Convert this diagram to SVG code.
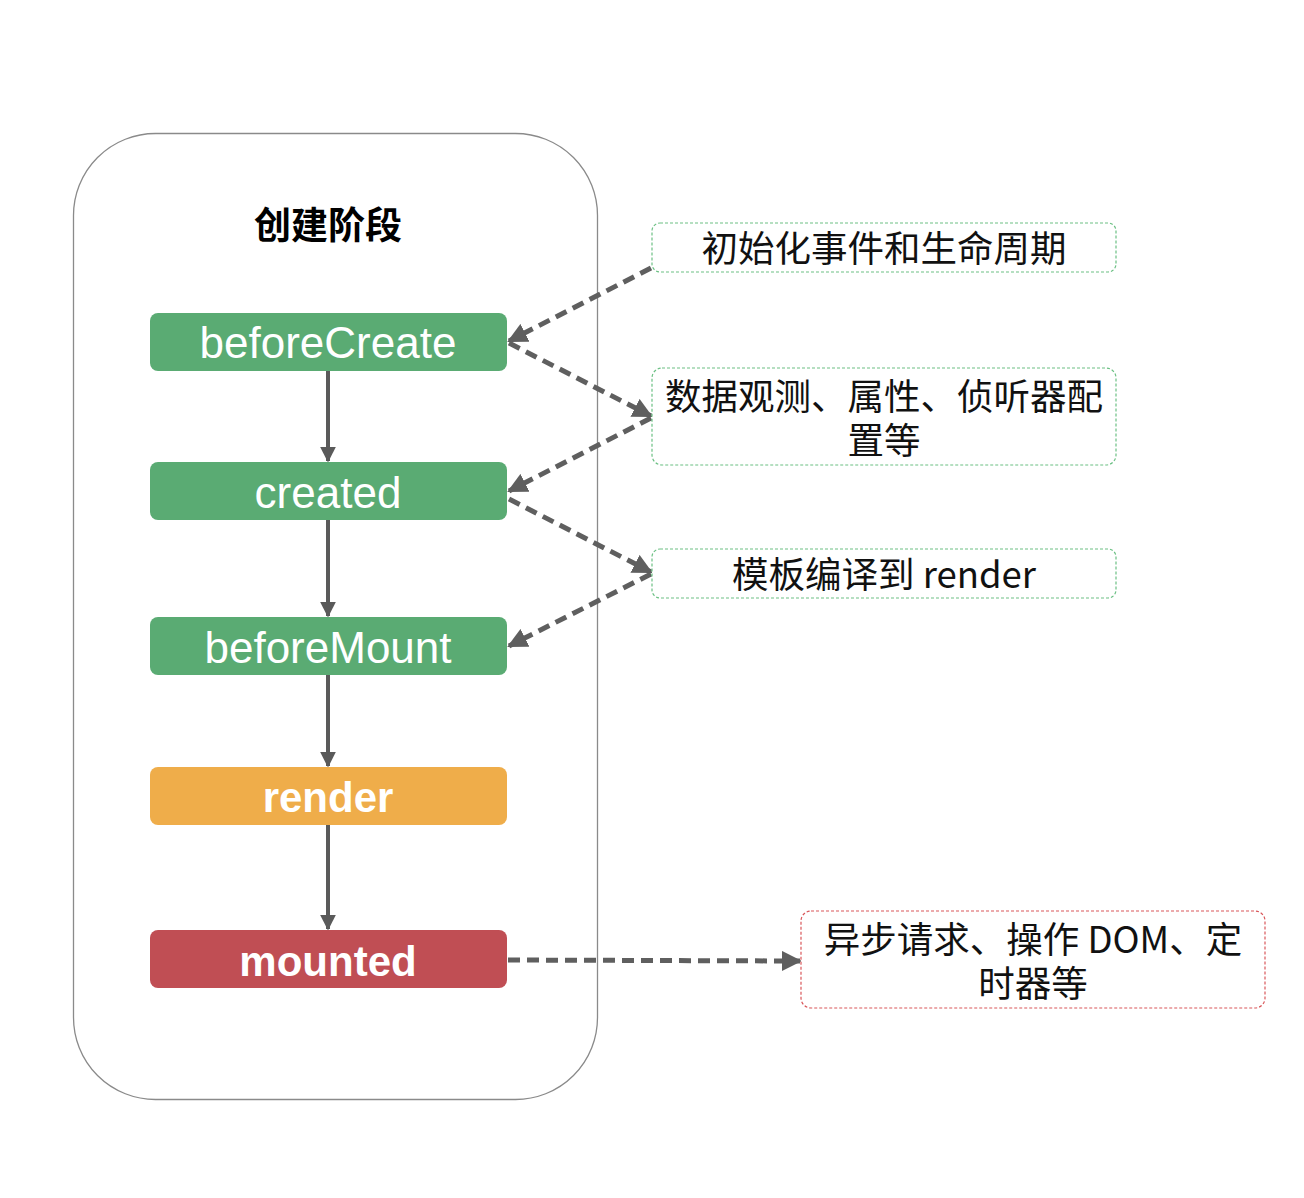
<svg xmlns="http://www.w3.org/2000/svg" width="1304" height="1198" viewBox="0 0 1304 1198">
<style>
.node text{font-family:"Liberation Sans",Arial,sans-serif;font-size:44px;fill:#fff;text-anchor:middle}
.node text.b{font-size:42px;font-weight:bold}
.note text{font-family:"Noto Sans CJK SC","Liberation Sans",sans-serif;font-size:36.5px;fill:#111;text-anchor:middle}
.note rect{fill:#fff;stroke-width:1.2;stroke-dasharray:3 2}
.g rect{stroke:#6cc084}
.r rect{stroke:#d9575a}
.solid{stroke:#5a5a5a;stroke-width:4;fill:none}
.dash{stroke:#5f5f5f;stroke-width:5;fill:none;stroke-dasharray:12 7}
</style>
<defs>
<marker id="ah" viewBox="0 0 10 10" refX="9" refY="5" markerWidth="4" markerHeight="4" markerUnits="strokeWidth" orient="auto">
<path d="M0,0 L10,5 L0,10 Z" fill="#5a5a5a"/>
</marker>
<marker id="ah2" viewBox="0 0 10 10" refX="9" refY="5" markerWidth="4" markerHeight="4" markerUnits="strokeWidth" orient="auto">
<path d="M0,0 L10,5 L0,10 Z" fill="#5f5f5f"/>
</marker>
</defs>
<rect width="1304" height="1198" fill="#fff"/>
<g id="container">
<rect x="73.5" y="133.5" width="524" height="966" rx="82" fill="none" stroke="#8a8a8a" stroke-width="1.3"/>
<text x="328" y="239" font-family="Noto Sans CJK SC,sans-serif" font-weight="bold" font-size="37" text-anchor="middle" fill="#000">创建阶段</text>
</g>
<g id="connectors">
<line class="solid" x1="328" y1="371" x2="328" y2="461" marker-end="url(#ah)"/>
<line class="solid" x1="328" y1="520" x2="328" y2="616" marker-end="url(#ah)"/>
<line class="solid" x1="328" y1="675" x2="328" y2="766" marker-end="url(#ah)"/>
<line class="solid" x1="328" y1="825" x2="328" y2="929" marker-end="url(#ah)"/>
<line class="dash" x1="651" y1="268" x2="509" y2="341" marker-end="url(#ah2)"/>
<line class="dash" x1="509" y1="343" x2="651" y2="416" marker-end="url(#ah2)"/>
<line class="dash" x1="651" y1="418" x2="509" y2="491" marker-end="url(#ah2)"/>
<line class="dash" x1="509" y1="499" x2="651" y2="572" marker-end="url(#ah2)"/>
<line class="dash" x1="651" y1="574" x2="509" y2="646" marker-end="url(#ah2)"/>
<line class="dash" x1="508" y1="960" x2="800" y2="961" marker-end="url(#ah2)"/>
</g>
<g id="beforeCreate" class="node"><rect x="150" y="313" width="357" height="58" rx="8" fill="#5aab73"/><text x="328" y="358">beforeCreate</text></g>
<g id="created" class="node"><rect x="150" y="462" width="357" height="58" rx="8" fill="#5aab73"/><text x="328" y="508">created</text></g>
<g id="beforeMount" class="node"><rect x="150" y="617" width="357" height="58" rx="8" fill="#5aab73"/><text x="328" y="663">beforeMount</text></g>
<g id="render" class="node"><rect x="150" y="767" width="357" height="58" rx="8" fill="#efad4a"/><text class="b" x="328" y="812">render</text></g>
<g id="mounted" class="node"><rect x="150" y="930" width="357" height="58" rx="8" fill="#c04e54"/><text class="b" x="328" y="976">mounted</text></g>
<g id="note1" class="note g"><rect x="652" y="223" width="464" height="49" rx="8"/><text x="884" y="262">初始化事件和生命周期</text></g>
<g id="note2" class="note g"><rect x="652" y="368" width="464" height="97" rx="10"/><text x="884" y="410">数据观测、属性、侦听器配</text><text x="884" y="454">置等</text></g>
<g id="note3" class="note g"><rect x="652" y="549" width="464" height="49" rx="8"/><text x="884" y="588">模板编译到 render</text></g>
<g id="note4" class="note r"><rect x="801" y="911" width="464" height="97" rx="10"/><text x="1033" y="953">异步请求、操作 DOM、定</text><text x="1033" y="997">时器等</text></g>
</svg>
